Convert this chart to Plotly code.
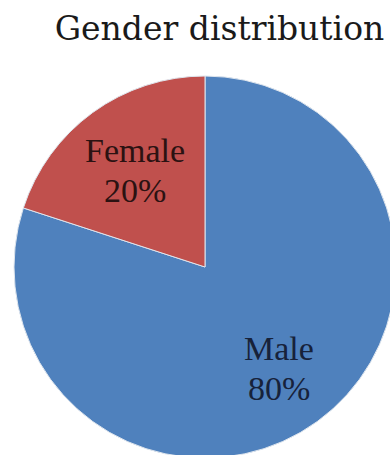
import math
import plotly.graph_objects as go

# Gender split of respondents
genders = ["Male", "Female"]
shares = [80, 20]
slice_colors = ["#4F81BD", "#C0504D"]
label_colors = ["#17223a", "#2b1212"]

W, H = 396, 458
R = 191            # pie radius in px
CX, CY = 205, 267  # pie centre in px (from top-left)
LABEL_RADIUS = [0.66, 0.625]  # label distance from centre, fraction of R

fig = go.Figure(
    go.Pie(
        labels=genders,
        values=shares,
        sort=False,
        direction="clockwise",
        rotation=0,
        marker=dict(colors=slice_colors, line=dict(color="#dfe6ee", width=1)),
        textinfo="none",
        showlegend=False,
        hoverinfo="label+percent",
        domain=dict(
            x=[(CX - R) / W, (CX + R) / W],
            y=[(H - CY - R) / H, (H - CY + R) / H],
        ),
    )
)

# Category + percentage labels placed along each slice's mid-angle
total = sum(shares)
start = 0.0
for name, val, col, frac in zip(genders, shares, label_colors, LABEL_RADIUS):
    mid = (start + val / 2) / total * 2 * math.pi  # clockwise from 12 o'clock
    start += val
    px = CX + frac * R * math.sin(mid)
    py = CY - frac * R * math.cos(mid)
    pct = f"{round(100 * val / total)}%"
    for txt, dy in ((name, -20), (pct, 20)):
        fig.add_annotation(
            x=px / W,
            y=1 - (py + dy) / H,
            xref="paper",
            yref="paper",
            text=txt,
            showarrow=False,
            xanchor="center",
            yanchor="middle",
            font=dict(family="Liberation Serif", size=34, color=col),
        )

fig.update_layout(
    width=W,
    height=H,
    margin=dict(l=0, r=0, t=0, b=0),
    paper_bgcolor="white",
    plot_bgcolor="white",
    title=dict(
        text="Gender distribution",
        x=219.5 / W,
        xanchor="center",
        y=1 - 28 / H,
        yanchor="middle",
        font=dict(family="DejaVu Serif", size=33, color="#1a1a1a"),
    ),
)

fig.write_html(
    "out.html",
    post_script="document.body.style.margin='0';document.body.style.overflow='hidden';",
)
